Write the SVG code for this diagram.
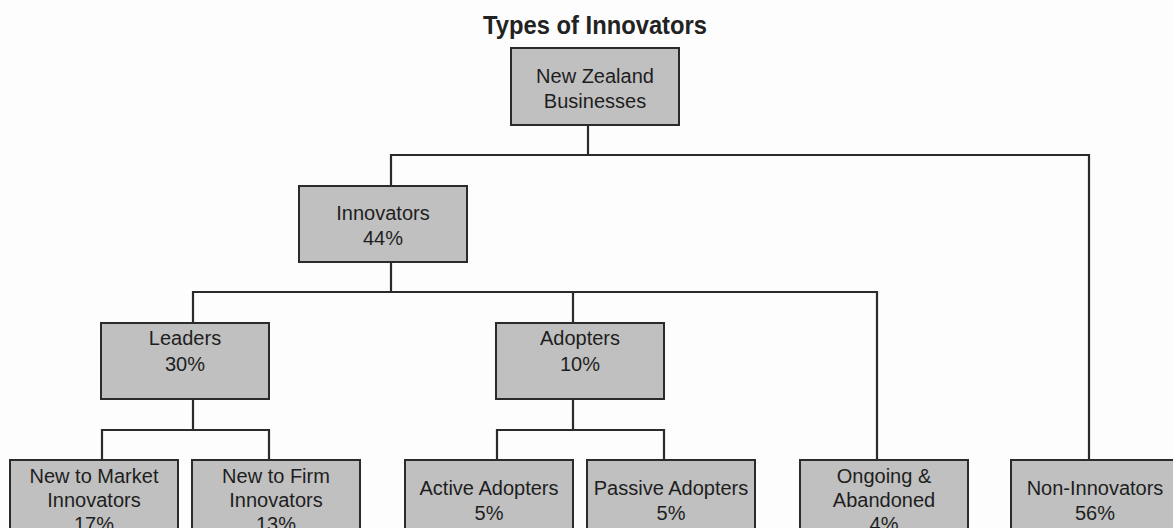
<svg xmlns="http://www.w3.org/2000/svg" width="1173" height="528" viewBox="0 0 1173 528">
<style>
.box{fill:#c0c0c0;stroke:#2b2b2b;stroke-width:2}
.lbl{font-family:"Liberation Sans",Arial,sans-serif;font-size:20px;fill:#1e1e1e;text-anchor:middle}
.conn{fill:none;stroke:#2b2b2b;stroke-width:2.2;stroke-linejoin:miter;stroke-linecap:square}
.title{font-family:"Liberation Sans",Arial,sans-serif;font-size:25px;font-weight:bold;fill:#222;text-anchor:middle}
</style>
<rect width="1173" height="528" fill="#fdfdfd"/>
<text class="title" x="595" y="34" textLength="224" lengthAdjust="spacingAndGlyphs">Types of Innovators</text>
<g id="connectors">
<path class="conn" d="M588,125 V155 M391,186 V155 H1089 V460"/>
<path class="conn" d="M391,262 V292 M193,323 V292 H877 V460 M573,292 V323"/>
<path class="conn" d="M193,399 V430 M102,460 V430 H269 V460"/>
<path class="conn" d="M573,399 V430 M497,460 V430 H664 V460"/>
</g>
<g id="nz">
<rect class="box" x="511" y="48" width="168" height="77"/>
<text class="lbl" x="595" y="83">New Zealand</text>
<text class="lbl" x="595" y="108">Businesses</text>
</g>
<g id="innovators">
<rect class="box" x="299" y="186" width="168" height="76"/>
<text class="lbl" x="383" y="220">Innovators</text>
<text class="lbl" x="383" y="245">44%</text>
</g>
<g id="leaders">
<rect class="box" x="101" y="323" width="168" height="76"/>
<text class="lbl" x="185" y="345">Leaders</text>
<text class="lbl" x="185" y="371">30%</text>
</g>
<g id="adopters">
<rect class="box" x="496" y="323" width="168" height="76"/>
<text class="lbl" x="580" y="345">Adopters</text>
<text class="lbl" x="580" y="371">10%</text>
</g>
<g id="new-to-market">
<rect class="box" x="10" y="460" width="168" height="86"/>
<text class="lbl" x="94" y="483">New to Market</text>
<text class="lbl" x="94" y="507">Innovators</text>
<text class="lbl" x="94" y="531">17%</text>
</g>
<g id="new-to-firm">
<rect class="box" x="192" y="460" width="168" height="86"/>
<text class="lbl" x="276" y="483">New to Firm</text>
<text class="lbl" x="276" y="507">Innovators</text>
<text class="lbl" x="276" y="531">13%</text>
</g>
<g id="active">
<rect class="box" x="405" y="460" width="168" height="86"/>
<text class="lbl" x="489" y="495">Active Adopters</text>
<text class="lbl" x="489" y="520">5%</text>
</g>
<g id="passive">
<rect class="box" x="587" y="460" width="168" height="86"/>
<text class="lbl" x="671" y="495">Passive Adopters</text>
<text class="lbl" x="671" y="520">5%</text>
</g>
<g id="ongoing">
<rect class="box" x="800" y="460" width="168" height="86"/>
<text class="lbl" x="884" y="483">Ongoing &amp;</text>
<text class="lbl" x="884" y="507">Abandoned</text>
<text class="lbl" x="884" y="531">4%</text>
</g>
<g id="non-innovators">
<rect class="box" x="1011" y="460" width="168" height="86"/>
<text class="lbl" x="1095" y="495">Non-Innovators</text>
<text class="lbl" x="1095" y="520">56%</text>
</g>
</svg>
